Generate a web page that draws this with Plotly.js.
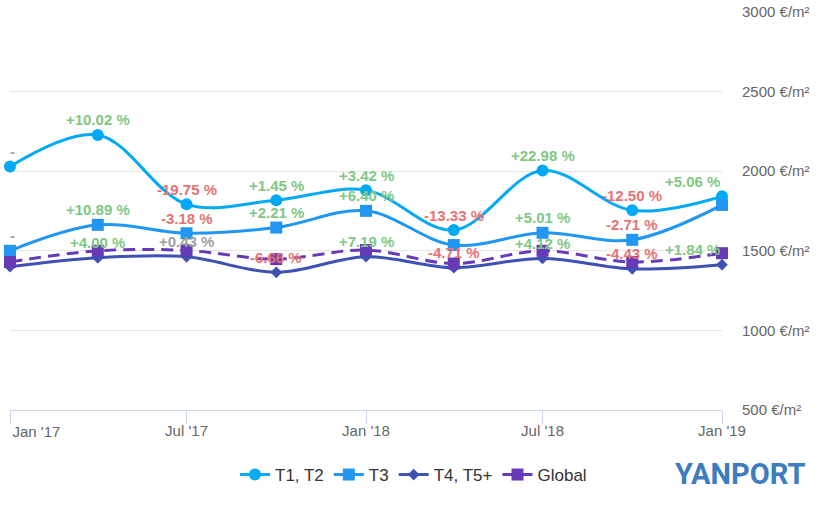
<!DOCTYPE html>
<html>
<head>
<meta charset="utf-8">
<script src="https://cdn.plot.ly/plotly-3.0.1.min.js"></script>
<style>
  html, body { margin: 0; padding: 0; background: #ffffff; }
  #chart { width: 827px; height: 508px; }
</style>
</head>
<body>
<div id="chart"></div>
<script>
// ---- Data ----
const dates = ['2017-01-01', '2017-04-01', '2017-07-01', '2017-10-01', '2018-01-01',
               '2018-04-01', '2018-07-01', '2018-10-01', '2019-01-01'];

const seriesNames = ['T1, T2', 'T3', 'T4, T5+', 'Global'];

const t1Values = [2030, 2228, 1792, 1818, 1881, 1630, 2004, 1754, 1842];
const t3Values = [1500, 1663, 1610, 1646, 1751, 1536, 1613, 1569, 1788];
const t4Values = [1400, 1456, 1462, 1365, 1463, 1394, 1452, 1387, 1413];
const globalValues = [1430, 1500, 1502, 1448, 1505, 1420, 1500, 1430, 1485];

// percentage change labels (null = first point, shown as "-")
const t1Change = [null, 10.02, -19.75, 1.45, 3.42, -13.33, 22.98, -12.50, 5.06];
const t3Change = [null, 10.89, -3.18, 2.21, 6.40, null, 5.01, -2.71, null];
const t4Change = [null, 4.00, 0.43, -6.66, 7.19, -4.71, 4.12, -4.43, 1.84];
// indices whose labels are hidden in the reference (overlap)
const t3Hidden = [5, 8];
const t4Hidden = [0];

const yTickVals = [500, 1000, 1500, 2000, 2500, 3000];
const yUnit = ' €/m²';
const xTickVals = ['2017-01-01', '2017-07-01', '2018-01-01', '2018-07-01', '2019-01-01'];
const xTickText = ["Jan '17", "Jul '17", "Jan '18", "Jul '18", "Jan '19"];

// ---- Styles ----
const colors = ['#03a9f4', '#2196f3', '#3f51b5', '#673ab7'];
const GREEN = '#81c784', RED = '#e57373', GREY = '#9e9e9e';

function mkTrace(name, y, color, symbol, size, dash) {
  return {
    type: 'scatter', mode: 'lines+markers', name: name,
    x: dates, y: y,
    line: { color: color, width: 3, shape: 'spline', smoothing: 1, dash: dash || 'solid' },
    marker: { color: color, symbol: symbol, size: size },
    cliponaxis: false,
    hoverinfo: 'x+y'
  };
}

const traces = [
  mkTrace(seriesNames[0], t1Values, colors[0], 'circle', 12),
  mkTrace(seriesNames[1], t3Values, colors[1], 'square', 12),
  mkTrace(seriesNames[2], t4Values, colors[2], 'diamond', 9),
  mkTrace(seriesNames[3], globalValues, colors[3], 'square', 12, '12px,7px'),
  // invisible holder so the secondary x axis (tick marks + first label) is drawn
  { type: 'scatter', mode: 'lines', x: dates, y: t4Values, xaxis: 'x2',
    line: { width: 0, color: 'rgba(0,0,0,0)' }, showlegend: false, hoverinfo: 'skip' }
];

function fmt(v) {
  if (v === null) return '-';
  return (v > 0 ? '+' : '') + v.toFixed(2) + ' %';
}
function colorFor(v) {
  if (v === null) return GREY;
  if (Math.abs(v) < 1) return GREY;
  return v > 0 ? GREEN : RED;
}

const annotations = [];
function addLabels(values, changes, hidden) {
  changes.forEach(function (c, i) {
    if (hidden.indexOf(i) >= 0) return;
    const last = i === dates.length - 1;
    annotations.push({
      x: dates[i], y: values[i], xref: 'x', yref: 'y',
      text: fmt(c), showarrow: false,
      xanchor: last ? 'right' : 'center', yanchor: 'middle',
      yshift: 15, xshift: (i === 0 ? 2 : 0),
      font: { family: 'Liberation Sans, Arial, sans-serif', size: 15, color: colorFor(c), weight: 'bold' }
    });
  });
}
addLabels(t1Values, t1Change, []);
addLabels(t3Values, t3Change, t3Hidden);
addLabels(t4Values, t4Change, t4Hidden);

// logo
annotations.push({
  xref: 'paper', yref: 'paper', x: 1.025, y: -0.161,
  text: 'YANPORT', showarrow: false, xanchor: 'center', yanchor: 'middle',
  font: { family: 'Roboto, Arial, sans-serif', size: 29, color: '#3d7cbd', weight: 'bold' }
});

// labels: first one is left-justified (on xaxis2), the rest centred (on xaxis)
const mainText = xTickText.map(function (t, i) { return i === 0 ? '' : t; });
const firstText = xTickText.map(function (t, i) { return i === 0 ? t : ''; });

const layout = {
  width: 827, height: 508,
  margin: { l: 10, r: 105, t: 12, b: 98 },
  paper_bgcolor: '#ffffff', plot_bgcolor: '#ffffff',
  font: { family: 'Liberation Sans, Arial, sans-serif', color: '#666666' },
  showlegend: true,
  xaxis: {
    type: 'date', range: ['2017-01-01', '2019-01-01'],
    tickmode: 'array', tickvals: xTickVals, ticktext: mainText,
    showgrid: false, zeroline: false,
    showline: true, linecolor: '#ccd6eb', linewidth: 1,
    ticks: 'outside', ticklen: 7, tickcolor: '#ccd6eb', tickwidth: 1,
    tickfont: { size: 15, color: '#666666' },
    fixedrange: true
  },
  xaxis2: {
    type: 'date', overlaying: 'x', matches: 'x', side: 'bottom',
    range: ['2017-01-01', '2019-01-01'],
    tickmode: 'array', tickvals: xTickVals, ticktext: firstText,
    ticklabelposition: 'outside right',
    ticklabelstandoff: 8, ticklabelshift: 2,
    showgrid: false, zeroline: false, showline: false,
    ticks: 'outside', ticklen: 13, tickcolor: '#ccd6eb', tickwidth: 1,
    tickfont: { size: 15, color: '#666666' }
  },
  yaxis: {
    side: 'right', range: [500, 3000],
    tickmode: 'array', tickvals: yTickVals,
    ticktext: yTickVals.map(function (v) { return v + yUnit; }),
    showgrid: true, gridcolor: '#e6e6e6', gridwidth: 1,
    zeroline: false, showline: false, ticks: '',
    ticklabelstandoff: 19,
    tickfont: { size: 15, color: '#666666' },
    fixedrange: true
  },
  legend: {
    orientation: 'h',
    xref: 'container', yref: 'container',
    x: 0.5, xanchor: 'center', y: 0.065, yanchor: 'middle',
    font: { size: 17, color: '#333333' },
    bgcolor: 'rgba(0,0,0,0)',
    traceorder: 'normal'
  },
  annotations: annotations
};

Plotly.newPlot('chart', traces, layout, { displayModeBar: false, staticPlot: true });
</script>
</body>
</html>
